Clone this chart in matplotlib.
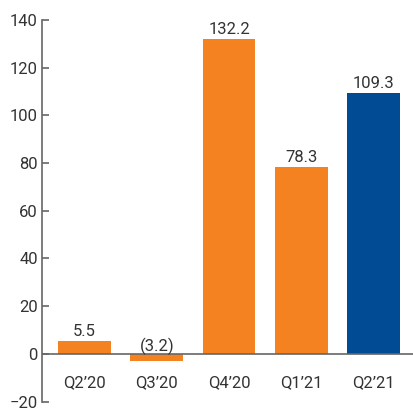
import matplotlib
matplotlib.use("Agg")
import matplotlib.pyplot as plt

categories = ["Q2\u201920", "Q3\u201920", "Q4\u201920", "Q1\u201921", "Q2\u201921"]
values = [5.5, -3.2, 132.2, 78.3, 109.3]
value_labels = ["5.5", "(3.2)", "132.2", "78.3", "109.3"]
yticks = [-20, 0, 20, 40, 60, 80, 100, 120, 140]

orange = "#F58220"
blue = "#004B93"
colors = [orange, orange, orange, orange, blue]
textc = "#333333"
linec = "#666666"

plt.rcParams['font.family'] = ['Roboto', 'DejaVu Sans']

fig = plt.figure(figsize=(4.14, 4.08), dpi=100)
ax = fig.add_axes([42/414, 6.5/408, 372/414, 381.5/408])

x = list(range(len(categories)))
ax.bar(x, values, width=0.73, color=colors, zorder=2)
ax.axhline(0, color=linec, lw=1.2, zorder=3)

for xi, v, lab in zip(x, values, value_labels):
    off = 5 if v >= 0 else 2.5
    ax.annotate(lab, (xi, max(v, 0)), xytext=(0, off), textcoords="offset pixels",
                ha="center", va="baseline", fontsize=12, color=textc, zorder=4)
    ax.text(xi, -12, categories[xi], ha="center", va="center", fontsize=12, color=textc)

ax.set_xlim(-0.59, 4.56)
ax.set_ylim(-20, 140)
ax.set_yticks(yticks)
ax.tick_params(axis="y", direction="in", labelsize=12, colors=linec, labelcolor=textc,
               length=5, width=1.2, pad=3)
ax.set_xticks([])
for s in ["top", "right", "bottom"]:
    ax.spines[s].set_visible(False)
ax.spines["left"].set_color(linec)
ax.spines["left"].set_linewidth(1.2)

fig.savefig("out.png", dpi=100)
